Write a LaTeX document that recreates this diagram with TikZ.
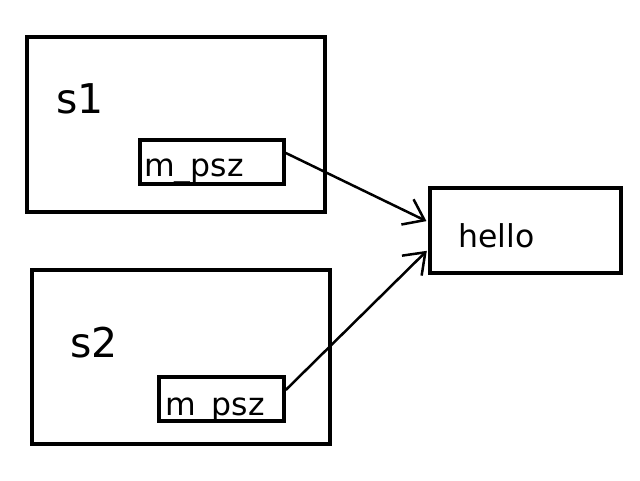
\documentclass[tikz,border=0pt]{standalone}
\usepackage{fontspec}
\setmainfont{DejaVu Sans}
\usetikzlibrary{arrows.meta}
\tikzset{box/.style={draw,line width=3.5pt,inner sep=0pt}}
\tikzstyle{lbl}=[anchor=base west,inner sep=0pt,font=\fontsize{31.5}{36}\selectfont]
\tikzstyle{big}=[anchor=base west,inner sep=0pt,font=\fontsize{41}{48}\selectfont]

\begin{document}
\begin{tikzpicture}[x=1pt,y=-1pt]
\useasboundingbox (0,0) rectangle (640,480);
\node[box,minimum width=298pt,minimum height=175pt] (S1) at (176,124.5) {};
\node[box,minimum width=144pt,minimum height=44pt] (P1) at (212,162) {};
\node[box,minimum width=298pt,minimum height=174pt] (S2) at (181,357) {};
\node[box,minimum width=125pt,minimum height=44pt] (P2) at (221.5,399) {};
\node[box,minimum width=191pt,minimum height=85pt] (H) at (525.5,230.5) {};
\node[big] (S1name) at (56,113) {s1};
\node[big] (S2name) at (70,357) {s2};
\node[lbl] (P1name) at (144,176) {m\_psz};
\node[lbl] (P2name) at (165,415) {m\_psz};
\node[lbl] (Hname) at (458,247) {hello};
\path[->,line width=2.5pt,shorten >=2pt,>={Straight Barb[length=19pt,width=28pt]}]
(P1.7) edge (H.175)
(P2.8) edge (H.191);
\end{tikzpicture}
\end{document}
